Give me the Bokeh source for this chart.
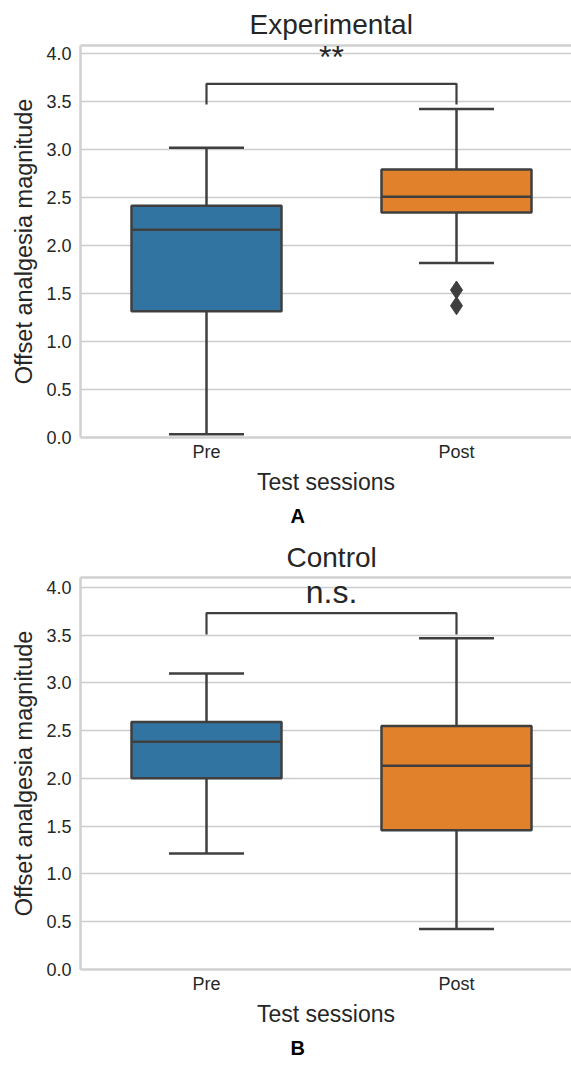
from bokeh.plotting import figure
from bokeh.models import Range1d, FixedTicker, LinearAxis, Label, Title
from bokeh.layouts import column
from bokeh.embed import file_html
from bokeh.resources import INLINE

# ---------------- data ----------------
sessions = ["Pre", "Post"]
box_colors = ["#3274a1", "#e1812c"]
y_ticks = [0.0, 0.5, 1.0, 1.5, 2.0, 2.5, 3.0, 3.5, 4.0]

# Panel A: Experimental
exp_whisker_low = [0.035, 1.82]
exp_q1 = [1.315, 2.347]
exp_median = [2.167, 2.511]
exp_q3 = [2.417, 2.793]
exp_whisker_high = [3.022, 3.426]
exp_outlier_session = [1, 1]
exp_outlier_value = [1.538, 1.374]
exp_bracket = [3.471, 3.687]
exp_sig = "**"

# Panel B: Control
ctl_whisker_low = [1.215, 0.425]
ctl_q1 = [2.002, 1.459]
ctl_median = [2.384, 2.134]
ctl_q3 = [2.590, 2.548]
ctl_whisker_high = [3.099, 3.467]
ctl_outlier_session = []
ctl_outlier_value = []
ctl_bracket = [3.506, 3.732]
ctl_sig = "n.s."

# ---------------- styling ----------------
FONT = "Liberation Sans"
TEXT = "#262626"
EDGE = "#3f3f3f"
SPINE = "#d0d0d0"
GRID = "#cccccc"
BOX_W = 0.6
CAP_W = 0.3


def panel(title, title_offset, title_standoff, wl, q1, med, q3, wh, out_x, out_y,
          bracket, sig, letter, ymax, height, b_top, b_bottom, sig_y):
    x = list(range(len(sessions)))
    p = figure(width=571, height=height, output_backend="svg", toolbar_location=None,
               x_range=Range1d(-0.504, 1.46), y_range=Range1d(0, ymax),
               min_border_left=80, min_border_right=0, min_border_top=b_top,
               min_border_bottom=b_bottom)
    p.outline_line_color = None
    p.background_fill_color = "white"
    p.border_fill_color = "white"

    # title (above)
    p.title.text = title
    p.title.align = "left"
    p.title.offset = title_offset
    p.title.text_font = FONT
    p.title.text_font_size = "28px"
    p.title.text_font_style = "normal"
    p.title.text_color = TEXT
    p.title.standoff = title_standoff

    # axes
    p.xaxis.ticker = FixedTicker(ticks=x)
    p.xaxis.major_label_overrides = {i: s for i, s in enumerate(sessions)}
    p.yaxis.ticker = FixedTicker(ticks=y_ticks)
    p.yaxis.major_label_overrides = {t: f"{t:.1f}" for t in y_ticks}
    for ax in (p.xaxis[0], p.yaxis[0]):
        ax.major_tick_line_color = None
        ax.minor_tick_line_color = None
        ax.major_tick_out = 0
        ax.major_tick_in = 0
        ax.axis_line_color = SPINE
        ax.axis_line_width = 2.5
        ax.major_label_text_font = FONT
        ax.major_label_text_font_size = "18px"
        ax.major_label_text_color = TEXT
        ax.axis_label_text_font = FONT
        ax.axis_label_text_font_style = "normal"
        ax.axis_label_text_color = TEXT
    p.xaxis.axis_label_text_font_size = "23px"
    p.yaxis.axis_label_text_font_size = "23.5px"
    p.xaxis.major_label_standoff = 4
    p.yaxis.major_label_standoff = 9
    p.xaxis.axis_label = "Test sessions"
    p.yaxis.axis_label = "Offset analgesia magnitude"
    p.xaxis.axis_label_standoff = 4
    p.yaxis.axis_label_standoff = 6

    top_ax = LinearAxis(ticker=FixedTicker(ticks=[]), axis_line_color=SPINE,
                        axis_line_width=2.5, major_tick_line_color=None,
                        minor_tick_line_color=None, major_label_text_font_size="0px",
                        major_tick_out=0, major_tick_in=0)
    p.add_layout(top_ax, "above")

    p.xgrid.grid_line_color = None
    p.ygrid.grid_line_color = GRID
    p.ygrid.grid_line_width = 1.6

    # boxes
    p.vbar(x=x, width=BOX_W, bottom=q1, top=q3, fill_color=box_colors,
           line_color=EDGE, line_width=2.5)
    p.segment(x0=[i - BOX_W / 2 for i in x], x1=[i + BOX_W / 2 for i in x],
              y0=med, y1=med, line_color=EDGE, line_width=2.5)
    # whiskers
    p.segment(x0=x, x1=x, y0=q3, y1=wh, line_color=EDGE, line_width=2.5)
    p.segment(x0=x, x1=x, y0=q1, y1=wl, line_color=EDGE, line_width=2.5)
    p.segment(x0=[i - CAP_W / 2 for i in x], x1=[i + CAP_W / 2 for i in x],
              y0=wh, y1=wh, line_color=EDGE, line_width=2.5)
    p.segment(x0=[i - CAP_W / 2 for i in x], x1=[i + CAP_W / 2 for i in x],
              y0=wl, y1=wl, line_color=EDGE, line_width=2.5)
    if out_y:
        p.scatter(x=out_x, y=out_y, marker="diamond", size=18,
                  fill_color=EDGE, line_color=EDGE)

    # significance bracket
    p.line(x=[x[0], x[0], x[1], x[1]], y=[bracket[0], bracket[1], bracket[1], bracket[0]],
           line_color=EDGE, line_width=2.2)
    p.add_layout(Label(x=(x[0] + x[1]) / 2, y=sig_y, text=sig, text_align="center",
                       text_baseline="alphabetic", text_font=FONT,
                       text_font_size="32px", text_color=TEXT))
    # panel letter (below the x-axis label)
    p.add_layout(Title(text=letter, align="left", offset=210, standoff=11,
                       text_font=FONT, text_font_size="20px", text_font_style="bold",
                       text_color="black"), "below")
    return p


pa = panel("Experimental", 169, 11, exp_whisker_low, exp_q1, exp_median, exp_q3,
           exp_whisker_high, exp_outlier_session, exp_outlier_value, exp_bracket, exp_sig,
           "A", ymax=4.087, height=534, b_top=45, b_bottom=97, sig_y=3.97)
pb = panel("Control", 206, 10, ctl_whisker_low, ctl_q1, ctl_median, ctl_q3,
           ctl_whisker_high, ctl_outlier_session, ctl_outlier_value, ctl_bracket, ctl_sig,
           "B", ymax=4.104, height=534, b_top=42, b_bottom=99, sig_y=3.95)

layout = column(pa, pb, spacing=0)
open("out.html", "w").write(file_html(layout, INLINE))
